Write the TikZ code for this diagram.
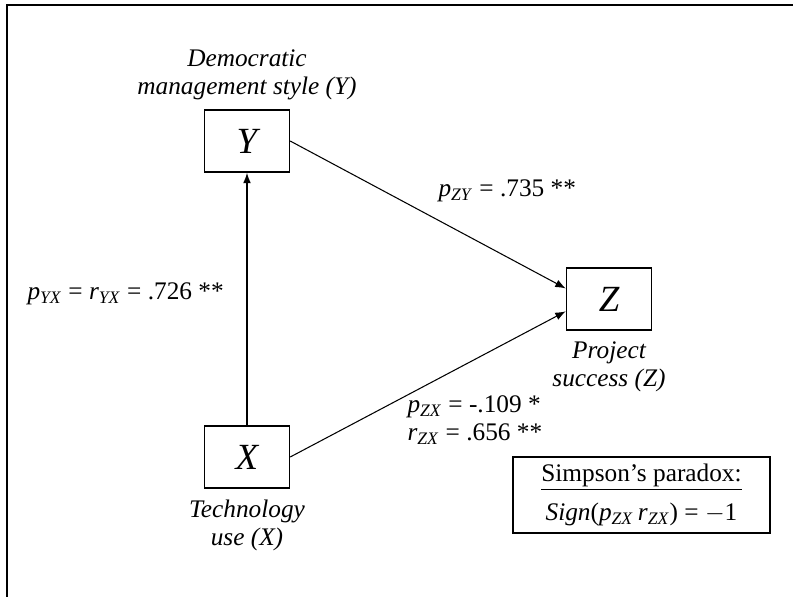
\documentclass[tikz,border=0pt]{standalone}
\usepackage{fontspec}
\setmainfont{Liberation Serif}
\usetikzlibrary{arrows.meta, positioning}
\newcommand{\coef}[2]{\textit{#1}\textsubscript{\textit{#2}}}
\tikzset{
    pathdiagram/.style={>={Latex[length=6pt, width=4.5pt]}, line width=0.6pt, font=\fontsize{14.4}{16}\selectfont\itshape},
    var/.style={draw, line width=0.8pt, minimum width=1.7cm, minimum height=1.24cm, font=\fontsize{21}{24}\selectfont\itshape},
    caption/.style={align=center, inner sep=1pt},
    coeflabel/.style={anchor=west, inner sep=0pt, font=\fontsize{14.4}{16}\selectfont},
    notebox/.style={draw, line width=0.8pt, minimum width=5.14cm, minimum height=1.52cm, align=center, font=\fontsize{14.4}{16}\selectfont},
}
\begin{document}
\begin{tikzpicture}[pathdiagram, x=0.02cm, y=-0.02cm]
    \useasboundingbox (0,0) rectangle (793,596);
    % outer frame
    \draw[line width=1.3pt] (7,640) -- (7,5) -- (840,5);

    \node[var] (y) at (247,141) {Y};
    \node[var] (x) at (247,457) {X};
    \node[var] (z) at (609,299) {Z};

    \node[caption, above=4pt of y]  (ylab) {Democratic\\management style (\textit{Y})};
    \node[caption, below=5pt of x]  (xlab) {Technology\\use (\textit{X})};
    \node[caption, below=5pt of z]  (zlab) {Project\\success (\textit{Z})};

    \coordinate (zin1) at ([yshift=6pt]z.west);
    \coordinate (zin2) at ([yshift=-7pt]z.west);
    \draw[->, line width=0.8pt] (x) -- (y);
    \draw[->] (y.east) -- (zin1);
    \draw[->] (x.east) -- (zin2);

    % path coefficients
    \node[coeflabel] (pyx) at (27,294) {\coef{p}{YX} = \coef{r}{YX} = .726 **};
    \node[coeflabel] (pzy) at (438,191) {\coef{p}{ZY} = .735 **};
    \node[coeflabel, align=left] (pzx) at (407,420) {\coef{p}{ZX} = -.109 *\\\coef{r}{ZX} = .656 **};

    \node[notebox] (note) at (641.5,495) {\underline{Simpson's paradox:}\\[6pt]\textit{Sign}(\coef{p}{ZX}\,\coef{r}{ZX}) = $-$1};
\end{tikzpicture}
\end{document}
